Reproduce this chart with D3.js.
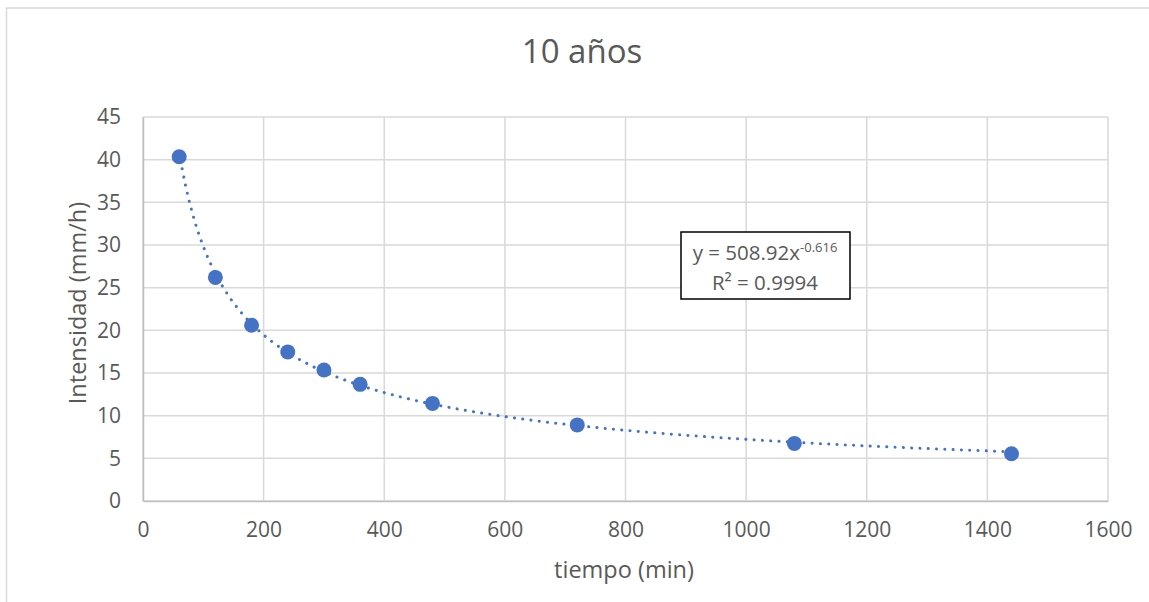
<!DOCTYPE html>
<html>
<head>
<meta charset="utf-8">
<script src="https://cdn.jsdelivr.net/npm/d3@7"></script>
<style>
  body { margin: 0; background: #fff; }
  svg text { font-family: "Open Sans", "Liberation Sans", sans-serif; fill: #595959; }
</style>
</head>
<body>
<svg id="chart" width="1149" height="602"></svg>
<script>
// duracion (min) vs intensidad (mm/h), periodo de retorno 10 años
var tiempo = [60, 120, 180, 240, 300, 360, 480, 720, 1080, 1440];
var intensidad = [40.35, 26.2, 20.6, 17.47, 15.35, 13.67, 11.44, 8.92, 6.75, 5.54];
var xTicks = [0, 200, 400, 600, 800, 1000, 1200, 1400, 1600];
var yTicks = [0, 5, 10, 15, 20, 25, 30, 35, 40, 45];
// coeficientes de la linea de tendencia potencial
var coefA = 508.92, coefB = -0.616, r2 = 0.9994;

var svg = d3.select("#chart");
var margin = {top: 117, right: 41, bottom: 101, left: 143};
var width = 1149 - margin.left - margin.right,
    height = 602 - margin.top - margin.bottom;

// marco exterior
svg.append("rect")
    .attr("x", 6.5).attr("y", 8)
    .attr("width", 1200).attr("height", 700)
    .attr("fill", "none").attr("stroke", "#d9d9d9").attr("stroke-width", 1.5);

var x = d3.scaleLinear().domain([0, 1600]).range([0, width]);
var y = d3.scaleLinear().domain([0, 45]).range([height, 0]);

var g = svg.append("g").attr("transform", "translate(" + margin.left + "," + margin.top + ")");

// grid
g.append("g").selectAll("line").data(yTicks).enter().append("line")
    .attr("x1", 0).attr("x2", width)
    .attr("y1", function(d) { return y(d); }).attr("y2", function(d) { return y(d); })
    .attr("stroke", "#d9d9d9").attr("stroke-width", 1.5);
g.append("g").selectAll("line").data(xTicks).enter().append("line")
    .attr("y1", 0).attr("y2", height)
    .attr("x1", function(d) { return x(d); }).attr("x2", function(d) { return x(d); })
    .attr("stroke", "#d9d9d9").attr("stroke-width", 1.5);

// ejes
var xAxis = d3.axisBottom(x).tickValues(xTicks).tickFormat(d3.format("d")).tickSize(0).tickPadding(21);
var yAxis = d3.axisLeft(y).tickValues(yTicks).tickFormat(d3.format("d")).tickSize(0).tickPadding(22);

g.append("g").attr("transform", "translate(0," + height + ")").call(xAxis)
  .call(function(s) {
    s.select(".domain").attr("stroke", "#bfbfbf").attr("stroke-width", 1.5);
    s.selectAll("text").attr("font-size", 21).style("fill", "#595959");
  });
g.append("g").call(yAxis)
  .call(function(s) {
    s.select(".domain").attr("stroke", "#bfbfbf").attr("stroke-width", 1.5);
    s.selectAll("text").attr("font-size", 21).style("fill", "#595959");
  });

// linea de tendencia
var trendX = d3.range(60, 1441, 5);
var line = d3.line()
    .x(function(d) { return x(d); })
    .y(function(d) { return y(coefA * Math.pow(d, coefB)); })
    .curve(d3.curveMonotoneX);
g.append("path")
    .datum(trendX)
    .attr("d", line)
    .attr("fill", "none")
    .attr("stroke", "#4472c4")
    .attr("stroke-width", 3)
    .attr("stroke-linecap", "round")
    .attr("stroke-dasharray", "0.1 8.2");

// puntos
g.append("g").selectAll("circle").data(tiempo).enter().append("circle")
    .attr("cx", function(d) { return x(d); })
    .attr("cy", function(d, i) { return y(intensidad[i]); })
    .attr("r", 7.5)
    .attr("fill", "#4472c4");

// titulo
svg.append("text")
    .attr("x", 582).attr("y", 63)
    .attr("text-anchor", "middle")
    .attr("font-size", 33)
    .text("10 años");

svg.append("text")
    .attr("x", 624).attr("y", 578)
    .attr("text-anchor", "middle")
    .attr("font-size", 23.5)
    .text("tiempo (min)");

svg.append("text")
    .attr("transform", "translate(86,303) rotate(-90)")
    .attr("text-anchor", "middle")
    .attr("font-size", 23.5)
    .text("Intensidad (mm/h)");

// etiqueta de la ecuacion
svg.append("rect")
    .attr("x", 681).attr("y", 232)
    .attr("width", 169).attr("height", 67)
    .attr("fill", "#fff").attr("stroke", "#000").attr("stroke-width", 1.5);
var eq = svg.append("text")
    .attr("x", 765).attr("y", 260)
    .attr("text-anchor", "middle")
    .attr("font-size", 20.5);
eq.append("tspan").text("y = " + coefA.toFixed(2) + "x");
eq.append("tspan").attr("dy", -8).attr("font-size", 13).text(coefB.toFixed(3));
svg.append("text")
    .attr("x", 765).attr("y", 290)
    .attr("text-anchor", "middle")
    .attr("font-size", 20.5)
    .text("R² = " + r2.toFixed(4));
</script>
</body>
</html>
